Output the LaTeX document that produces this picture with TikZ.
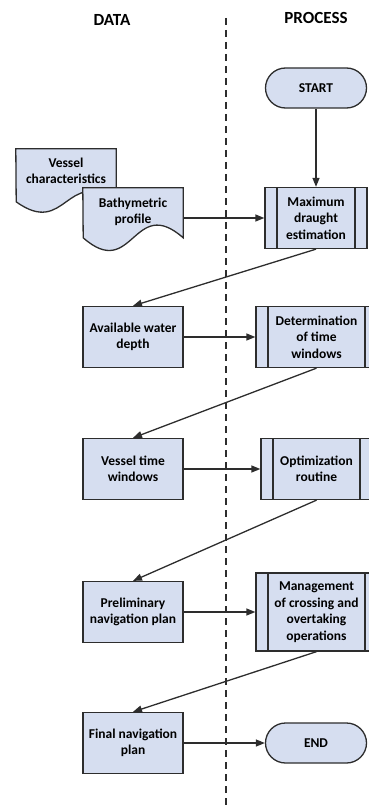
\documentclass[tikz,border=0pt]{standalone}
\usepackage{fontspec}
\setmainfont{Carlito}
\definecolor{flowfill}{RGB}{214,222,240}
\definecolor{flowline}{RGB}{45,45,45}
\usetikzlibrary{arrows.meta, backgrounds}

\begin{document}
\begin{tikzpicture}[x=1pt, y=-1pt,
  every node/.style={font=\bfseries\fontsize{13.5}{16.5}\selectfont, align=center, inner sep=0pt},
  head/.style={font=\bfseries\fontsize{17}{18}\selectfont},
  databox/.style={draw=flowline, fill=flowfill, line width=1.3pt, minimum width=100pt, minimum height=61pt},
  procbox/.style={draw=flowline, fill=flowfill, line width=1.3pt, minimum width=#1, minimum height=61pt, path picture={
      \draw[flowline, line width=1.3pt] ([xshift=12pt]path picture bounding box.north west) -- ([xshift=12pt]path picture bounding box.south west)
        ([xshift=-12pt]path picture bounding box.north east) -- ([xshift=-12pt]path picture bounding box.south east);}},
  procbox/.default=102pt,
  termbox/.style={draw=flowline, fill=flowfill, line width=1.3pt, minimum width=101pt, minimum height=40pt, rounded corners=20pt},
  docbox/.style={minimum width=100pt},
  docshape/.style={draw=flowline, fill=flowfill, line width=1.3pt},
  flow/.style={draw=flowline, line width=1.3pt, -{Triangle[length=9pt,width=7pt]}}
]
  \useasboundingbox (0,0) rectangle (368,805);

  \node[head] (datahead) at (112,20) {DATA};
  \node[head] (prochead) at (316,18) {PROCESS};
  \coordinate (divtop) at (226,18);
  \coordinate (divbot) at (226,805);
  \draw[flowline, line width=1.1pt, dash pattern=on 7pt off 5pt] (divtop) -- (divbot);

  \node[termbox] (start) at (316,88) {START};
  \node[procbox] (draught) at (316,218) {Maximum\\draught\\estimation};
  \node[docbox, minimum height=44pt] (vessel) at (66,171) {Vessel\\characteristics};
  \node[docbox, minimum height=48pt] (bathy) at (133,212) {Bathymetric\\profile};
  \node[databox] (water) at (133,337) {Available water\\depth};
  \node[procbox=121pt] (windows) at (316.5,337) {Determination\\of time\\windows};
  \node[databox] (vtw) at (133,469) {Vessel time\\windows};
  \node[procbox=111pt] (optim) at (316.5,469) {Optimization\\routine};
  \node[databox] (prelim) at (133,612) {Preliminary\\navigation plan};
  \node[procbox=121pt, minimum height=78pt] (crossing) at (316.5,612) {Management\\of crossing and\\overtaking\\operations};
  \node[databox] (final) at (133,743) {Final navigation\\plan};
  \node[termbox] (finish) at (316,743) {END};

  \begin{scope}[on background layer]
    \draw[docshape] (vessel.north west) -- (vessel.north east) -- ++(0,53)
      .. controls +(-50,-36) and +(50,36) .. ++(-100,0) -- cycle;
    \draw[docshape] (bathy.north west) -- (bathy.north east) -- ++(0,50)
      .. controls +(-50,-44) and +(50,44) .. ++(-100,0) -- cycle;
  \end{scope}

  \draw[flow] (start) -- (draught);
  \draw[flow] (bathy.east |- draught.west) -- (draught.west);
  \draw[flow] (draught.south) -- (water.north);
  \draw[flow] (water) -- (windows);
  \draw[flow] (windows.south) -- (vtw.north);
  \draw[flow] (vtw) -- (optim);
  \draw[flow] (optim.south) -- (prelim.north);
  \draw[flow] (prelim) -- (crossing);
  \draw[flow] (crossing.south) -- (final.north);
  \draw[flow] (final) -- (finish);
\end{tikzpicture}
\end{document}
